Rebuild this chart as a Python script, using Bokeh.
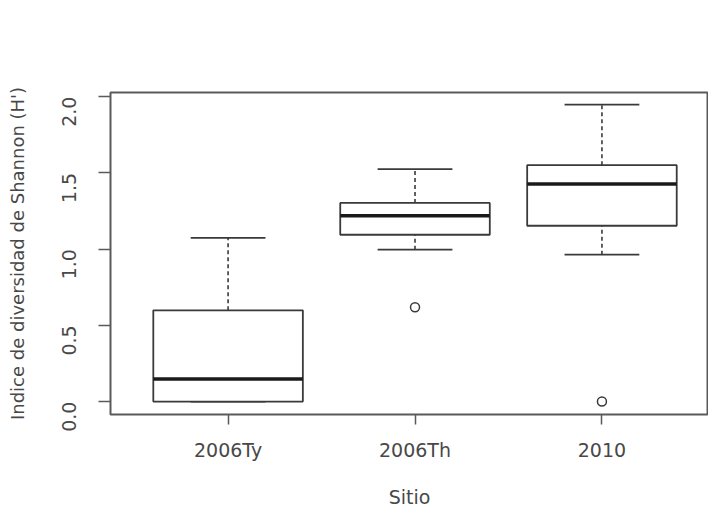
import math
from bokeh.plotting import figure
from bokeh.models import ColumnDataSource, FixedTicker, Range1d
from bokeh.embed import file_html
from bokeh.resources import INLINE

# ---- data ----
sites = ["2006Ty", "2006Th", "2010"]
whisker_low = [0.0, 0.996, 0.963]
q1 = [0.0, 1.094, 1.153]
median = [0.148, 1.218, 1.427]
q3 = [0.598, 1.303, 1.55]
whisker_high = [1.074, 1.524, 1.948]
outlier_sites = ["2006Th", "2010"]
outlier_values = [0.618, 0.0]
y_ticks = [0.0, 0.5, 1.0, 1.5, 2.0]

x_title = "Sitio"
y_title = "Indice de diversidad de Shannon (H')"

# ---- derived positions ----
xpos = [i + 1 for i in range(len(sites))]
box_half = 0.4
cap_half = 0.2

src = ColumnDataSource(dict(
    x=xpos,
    left=[x - box_half for x in xpos],
    right=[x + box_half for x in xpos],
    cap_l=[x - cap_half for x in xpos],
    cap_r=[x + cap_half for x in xpos],
    low=whisker_low, q1=q1, med=median, q3=q3, high=whisker_high,
))
out_src = ColumnDataSource(dict(
    x=[sites.index(s) + 1 for s in outlier_sites],
    y=outlier_values,
))

FONT = "DejaVu Sans"
TXT = "#484848"
LINE = "#3a3a3a"

p = figure(width=708, height=510, output_backend="svg", toolbar_location=None,
           x_range=Range1d(0.371, 3.57), y_range=Range1d(-0.085, 2.027),
           min_border_left=110, min_border_right=0, min_border_top=92,
           min_border_bottom=88)

p.background_fill_color = "white"
p.border_fill_color = "white"
p.outline_line_color = "#5a5a5a"
p.outline_line_width = 2
p.xgrid.visible = False
p.ygrid.visible = False

# whiskers (dashed)
p.segment(x0="x", y0="q3", x1="x", y1="high", source=src, line_color=LINE,
          line_width=1.6, line_dash="4 3")
p.segment(x0="x", y0="low", x1="x", y1="q1", source=src, line_color=LINE,
          line_width=1.6, line_dash="4 3")
# caps
p.segment(x0="cap_l", y0="high", x1="cap_r", y1="high", source=src,
          line_color=LINE, line_width=1.8)
p.segment(x0="cap_l", y0="low", x1="cap_r", y1="low", source=src,
          line_color=LINE, line_width=1.8)
# boxes
p.quad(left="left", right="right", bottom="q1", top="q3", source=src,
       fill_color="white", line_color=LINE, line_width=1.8)
# medians
p.segment(x0="left", y0="med", x1="right", y1="med", source=src,
          line_color="#1a1a1a", line_width=3.5)
# outliers
p.scatter(x="x", y="y", source=out_src, marker="circle", size=9,
          fill_color=None, line_color=LINE, line_width=1.5)

# x axis
xa = p.xaxis[0]
xa.ticker = FixedTicker(ticks=xpos)
xa.major_label_overrides = {x: s for x, s in zip(xpos, sites)}
xa.axis_line_color = None
xa.major_tick_line_color = "#5a5a5a"
xa.major_tick_line_width = 1.5
xa.major_tick_out = 10
xa.major_tick_in = 0
xa.minor_tick_line_color = None
xa.major_label_standoff = 14
xa.major_label_text_font = FONT
xa.major_label_text_font_size = "19px"
xa.major_label_text_color = TXT
xa.axis_label = x_title
xa.axis_label_standoff = 22
xa.axis_label_text_font = FONT
xa.axis_label_text_font_size = "19px"
xa.axis_label_text_font_style = "normal"
xa.axis_label_text_color = TXT

# y axis
ya = p.yaxis[0]
ya.ticker = FixedTicker(ticks=y_ticks)
ya.major_label_overrides = {t: f"{t:.1f}" for t in y_ticks}
ya.axis_line_color = None
ya.major_tick_line_color = "#5a5a5a"
ya.major_tick_line_width = 1.5
ya.major_tick_out = 12
ya.major_tick_in = 0
ya.minor_tick_line_color = None
ya.major_label_orientation = math.pi / 2
ya.major_label_standoff = 29
ya.major_label_text_font = FONT
ya.major_label_text_font_size = "19px"
ya.major_label_text_color = TXT
ya.axis_label = y_title
ya.axis_label_standoff = 25
ya.axis_label_text_font = FONT
ya.axis_label_text_font_size = "18px"
ya.axis_label_text_font_style = "normal"
ya.axis_label_text_color = TXT

open("out.html", "w").write(file_html(p, INLINE))
